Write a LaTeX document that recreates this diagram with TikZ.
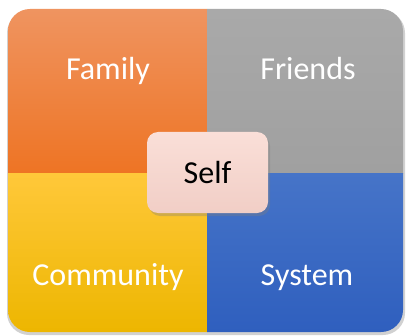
\documentclass[tikz,border=0pt]{standalone}
\usepackage{fontspec}
\setmainfont{Carlito}
\usetikzlibrary{shadows}
\definecolor{famTop}{HTML}{EF9460}
\definecolor{famBot}{HTML}{EE7424}
\definecolor{friTop}{HTML}{A9A9A9}
\definecolor{friBot}{HTML}{A0A0A0}
\definecolor{comTop}{HTML}{FFC83A}
\definecolor{comBot}{HTML}{EDB600}
\definecolor{sysTop}{HTML}{4674C8}
\definecolor{sysBot}{HTML}{2F5FBE}
\definecolor{selfTop}{HTML}{FADFD8}
\definecolor{selfBot}{HTML}{F1CEC6}
\tikzset{
  x=1pt,y=1pt,
  quadlabel/.style={text=white,font=\fontsize{32}{36}\selectfont,anchor=base,inner sep=0pt},
  selfbox/.style={rounded corners=11pt,top color=selfTop,bottom color=selfBot,
    minimum width=121pt,minimum height=81pt,inner sep=0pt,
    drop shadow={shadow xshift=2pt,shadow yshift=-3pt,opacity=0.35}},
}
\begin{document}
\begin{tikzpicture}
\useasboundingbox (0,0) rectangle (406,335);
% outer shadow
\fill[black,opacity=0.18,rounded corners=22pt] (7,0) rectangle (405,324);
\begin{scope}
\clip[rounded corners=22pt] (8,3) rectangle (403,326);
\shade[top color=famTop,bottom color=famBot] (8,162) rectangle (207,326);
\shade[top color=friTop,bottom color=friBot] (207,162) rectangle (403,326);
\shade[top color=comTop,bottom color=comBot] (8,3) rectangle (207,162);
\shade[top color=sysTop,bottom color=sysBot] (207,3) rectangle (403,162);
\end{scope}
\node[quadlabel] (family) at (108,255) {Family};
\node[quadlabel] (friends) at (308,255) {Friends};
\node[quadlabel] (community) at (108,50) {Community};
\node[quadlabel] (system) at (307,50) {System};
\node[selfbox] (selfbg) at (207.5,162.5) {};
\node[anchor=base,inner sep=0pt,font=\fontsize{32}{36}\selectfont] (self) at (207.5,152) {Self};
\end{tikzpicture}
\end{document}
